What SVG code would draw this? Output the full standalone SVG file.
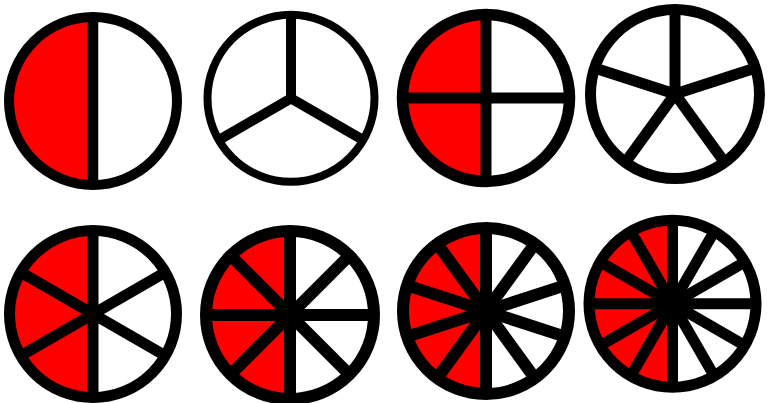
<svg xmlns="http://www.w3.org/2000/svg" width="777" height="403" viewBox="0 0 777 403">
<style>
.bg{fill:#fff}
.red{fill:#ff0000}
.ring{fill:none;stroke:#000}
.sp{stroke:#000;stroke-linecap:butt}
</style>
<rect width="777" height="403" fill="#fff"/>
<g id="w1" transform="translate(93,101)">
<circle class="bg" r="84"/>
<path class="red" d="M0,-84A84,84 0 0 0 0,84Z"/>
<g class="sp" stroke-width="10.5"><line x1="0" y1="0" x2="0" y2="-84"/><line x1="0" y1="0" x2="0" y2="84"/></g>
<circle class="ring" r="84" stroke-width="10"/>
</g>
<g id="w2" transform="translate(291,98.3)">
<circle class="bg" r="83.5"/>
<g class="sp" stroke-width="10"><line x1="0" y1="0" x2="0" y2="-83.5"/><line x1="0" y1="0" x2="72.3" y2="41.75"/><line x1="0" y1="0" x2="-72.3" y2="41.75"/></g>
<circle class="ring" r="83.5" stroke-width="8"/>
</g>
<g id="w3" transform="translate(486,98)">
<circle class="bg" r="83.5"/>
<path class="red" d="M0,-83.5A83.5,83.5 0 0 0 0,83.5Z"/>
<g class="sp" stroke-width="11"><line x1="0" y1="-83.5" x2="0" y2="83.5"/><line x1="-83.5" y1="0" x2="83.5" y2="0"/></g>
<circle class="ring" r="83.5" stroke-width="11.5"/>
</g>
<g id="w4" transform="translate(675,94)">
<circle class="bg" r="84.5"/>
<g class="sp" stroke-width="11"><line x1="0" y1="0" x2="0" y2="-84.5"/><line x1="0" y1="0" x2="80.4" y2="-26.1"/><line x1="0" y1="0" x2="49.7" y2="68.4"/><line x1="0" y1="0" x2="-49.7" y2="68.4"/><line x1="0" y1="0" x2="-80.4" y2="-26.1"/></g>
<circle class="ring" r="84.5" stroke-width="11"/>
</g>
<g id="w5" transform="translate(93,314)">
<circle class="bg" r="83.5"/>
<path class="red" d="M0,-83.5A83.5,83.5 0 0 0 0,83.5Z"/>
<g class="sp" stroke-width="11"><line x1="0" y1="-83.5" x2="0" y2="83.5"/><line x1="-72.3" y1="-41.75" x2="72.3" y2="41.75"/><line x1="-72.3" y1="41.75" x2="72.3" y2="-41.75"/></g>
<circle class="ring" r="83.5" stroke-width="11"/>
</g>
<g id="w6" transform="translate(290,315)">
<circle class="bg" r="84"/>
<path class="red" d="M0,-84A84,84 0 0 0 0,84Z"/>
<g class="sp" stroke-width="12"><line x1="0" y1="-84" x2="0" y2="84"/><line x1="-84" y1="0" x2="84" y2="0"/><line x1="-59.4" y1="-59.4" x2="59.4" y2="59.4"/><line x1="-59.4" y1="59.4" x2="59.4" y2="-59.4"/></g>
<circle class="ring" r="84" stroke-width="12"/>
</g>
<g id="w7" transform="translate(486,311)">
<circle class="bg" r="83"/>
<path class="red" d="M0,-83A83,83 0 0 0 0,83Z"/>
<g class="sp" stroke-width="12"><line x1="0" y1="-83" x2="0" y2="83"/><line x1="-48.8" y1="-67.1" x2="48.8" y2="67.1"/><line x1="-78.9" y1="-25.6" x2="78.9" y2="25.6"/><line x1="-78.9" y1="25.6" x2="78.9" y2="-25.6"/><line x1="-48.8" y1="67.1" x2="48.8" y2="-67.1"/></g>
<circle class="ring" r="83" stroke-width="12"/>
</g>
<g id="w8" transform="translate(672.5,303.7)">
<circle class="bg" r="83.5"/>
<path class="red" d="M0,-83.5A83.5,83.5 0 0 0 0,83.5Z"/>
<g class="sp" stroke-width="11"><line x1="0" y1="-83.5" x2="0" y2="83.5"/><line x1="-83.5" y1="0" x2="83.5" y2="0"/><line x1="-41.75" y1="-72.3" x2="41.75" y2="72.3"/><line x1="-72.3" y1="-41.75" x2="72.3" y2="41.75"/><line x1="-72.3" y1="41.75" x2="72.3" y2="-41.75"/><line x1="-41.75" y1="72.3" x2="41.75" y2="-72.3"/></g>
<circle class="ring" r="83.5" stroke-width="11"/>
</g>
</svg>
